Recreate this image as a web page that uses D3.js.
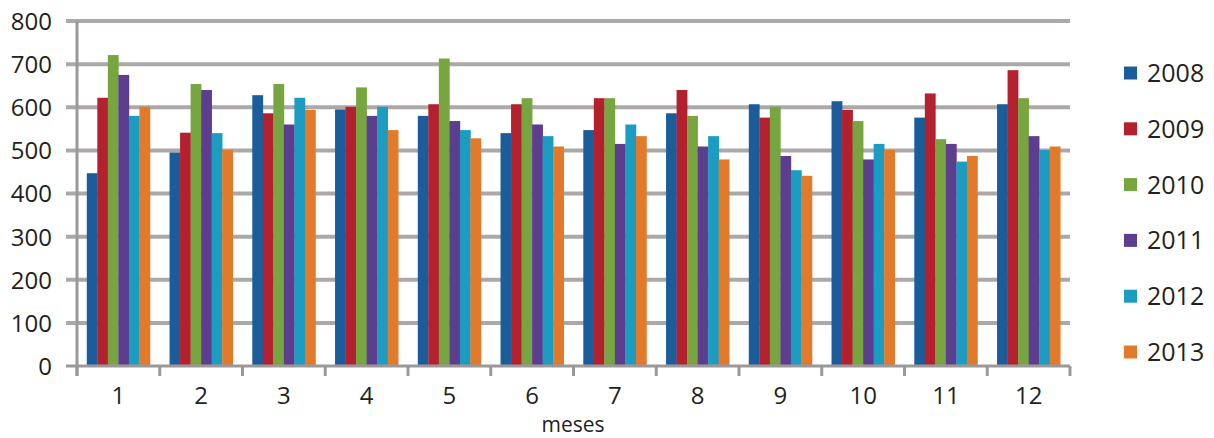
<!DOCTYPE html>
<html><head><meta charset="utf-8">
<script src="https://cdn.jsdelivr.net/npm/d3@7"></script>
<style>body{margin:0;background:#fff}svg{display:block}</style>
</head><body>
<script>
const months = ["1","2","3","4","5","6","7","8","9","10","11","12"];
const years = ["2008","2009","2010","2011","2012","2013"];
const colors = ["#1b5d9b","#b3202e","#77a540","#5c3d8e","#1b9cc0","#e17b2b"];
const s2008 = [447,495,628,595,580,540,547,586,607,614,576,607];
const s2009 = [622,541,586,601,607,607,621,640,576,594,632,686];
const s2010 = [721,654,654,646,713,621,621,580,601,568,526,621];
const s2011 = [675,640,560,580,568,560,515,509,487,479,515,533];
const s2012 = [580,540,622,601,547,533,560,533,454,515,474,501];
const s2013 = [601,501,594,547,528,509,533,479,441,501,487,509];
const yTicks = [0,100,200,300,400,500,600,700,800];
const series = [s2008,s2009,s2010,s2011,s2012,s2013];

(function(){
const W=1214,H=438;
const mL=77,mR=1070,mT=21,mB=366;
const svg=d3.select("body").append("svg").attr("width",W).attr("height",H);
const font="'Open Sans', 'Noto Sans', sans-serif";
const txt="#231f20";

const x=d3.scaleBand().domain(months).range([mL,mR]).paddingInner(0).paddingOuter(0);
const xi=d3.scaleBand().domain(years).range([0,x.bandwidth()]).paddingOuter(0.93).paddingInner(0);
const y=d3.scaleLinear().domain([0,800]).range([mB,mT]);

// gridlines
svg.append("g").selectAll("line").data(yTicks.filter(d=>d>0)).join("line")
  .attr("x1",mL-11).attr("x2",mR).attr("y1",d=>y(d)).attr("y2",d=>y(d))
  .attr("stroke","#aca8a8").attr("stroke-width",4);

// bars
const g=svg.append("g").selectAll("g").data(months).join("g")
  .attr("transform",d=>`translate(${x(d)},0)`);
g.selectAll("rect").data((m,i)=>years.map((yr,k)=>({yr,k,v:series[k][i]}))).join("rect")
  .attr("x",d=>xi(d.yr)).attr("width",xi.bandwidth()+0.3)
  .attr("y",d=>y(d.v)).attr("height",d=>y(0)-y(d.v))
  .attr("fill",d=>colors[d.k]);

// axes lines
svg.append("line").attr("x1",mL).attr("x2",mL).attr("y1",mT).attr("y2",mB+10)
  .attr("stroke","#9c9898").attr("stroke-width",3);
svg.append("line").attr("x1",mL-11).attr("x2",mR).attr("y1",mB).attr("y2",mB)
  .attr("stroke","#9c9898").attr("stroke-width",3);
// x ticks
svg.append("g").selectAll("line").data(months.concat(["end"])).join("line")
  .attr("x1",d=>d==="end"?mR:x(d)).attr("x2",d=>d==="end"?mR:x(d))
  .attr("y1",mB).attr("y2",mB+10)
  .attr("stroke","#9c9898").attr("stroke-width",3);

// y axis labels
const yAxis=d3.axisLeft(y).tickValues(yTicks).tickSize(0).tickPadding(0);
const ya=svg.append("g").attr("transform",`translate(${mL-25},0)`).call(yAxis);
ya.select(".domain").remove();
ya.selectAll("text").attr("font-family",font).attr("font-size",24).attr("fill",txt).attr("dy","0.35em");

// x axis labels
const xAxis=d3.axisBottom(x).tickSize(0).tickPadding(0);
const xa=svg.append("g").attr("transform",`translate(0,${mB+20})`).call(xAxis);
xa.select(".domain").remove();
xa.selectAll("text").attr("font-family",font).attr("font-size",24).attr("fill",txt).attr("dy","0.75em");

svg.append("text").attr("x",573).attr("y",432).attr("text-anchor","middle")
  .attr("font-family",font).attr("font-size",21).attr("fill",txt).text("meses");

// legend
const leg=svg.append("g").selectAll("g").data(years).join("g")
  .attr("transform",(d,i)=>`translate(1124,${73+i*55.8})`);
leg.append("rect").attr("x",0).attr("y",-6.5).attr("width",13).attr("height",13).attr("fill",(d,i)=>colors[i]);
leg.append("text").attr("x",23).attr("y",0).attr("dy","0.36em")
  .attr("font-family",font).attr("font-size",25).attr("fill",txt).text(d=>d);
})();
</script>
</body></html>
